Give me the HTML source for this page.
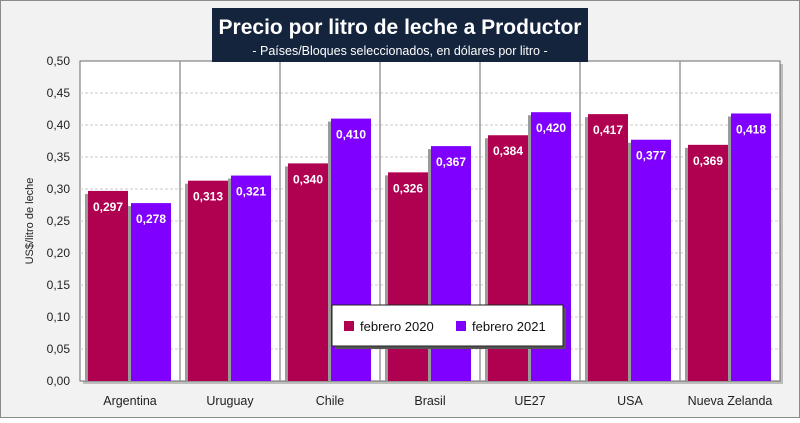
<!DOCTYPE html>
<html><head><meta charset="utf-8"><style>
body{margin:0;background:#fff;}
svg text{font-family:"Liberation Sans",sans-serif;}
</style></head><body>
<svg width="800" height="418" xmlns="http://www.w3.org/2000/svg">
<rect x="0.5" y="0.5" width="799" height="417" fill="#f2f2f2" stroke="#8c8c8c"/>
<rect x="83" y="64" width="700" height="320" fill="#9a9a9a" opacity="0.6"/>
<rect x="80" y="61" width="700" height="320" fill="#fff" stroke="#6b6b6b"/>
<g id="grid"></g>
<g id="bars"></g>
<g id="axes"></g>
<rect x="212" y="8" width="376" height="54" fill="#14243d"/>
<text x="400" y="34" text-anchor="middle" font-size="21" font-weight="bold" fill="#fff">Precio por litro de leche a Productor</text>
<text x="400" y="55" text-anchor="middle" font-size="12.5" fill="#fff">- Países/Bloques seleccionados, en dólares por litro -</text>
<text transform="translate(33,221) rotate(-90)" text-anchor="middle" font-size="11" fill="#222">US$/litro de leche</text>
<g>
<rect x="335" y="308" width="231" height="41" fill="#555"/>
<rect x="332" y="305" width="231" height="41" fill="#fff" stroke="#222"/>
<rect x="344" y="321" width="10" height="10" fill="#b00050"/>
<text x="360" y="331" font-size="13" fill="#111">febrero 2020</text>
<rect x="456" y="321" width="10" height="10" fill="#8000ff"/>
<text x="472" y="331" font-size="13" fill="#111">febrero 2021</text>
</g>
</svg>
<script>
const categories=["Argentina","Uruguay","Chile","Brasil","UE27","USA","Nueva Zelanda"];
const feb2020=[0.297,0.313,0.340,0.326,0.384,0.417,0.369];
const feb2021=[0.278,0.321,0.410,0.367,0.420,0.377,0.418];
const yTicks=[0,0.05,0.10,0.15,0.20,0.25,0.30,0.35,0.40,0.45,0.50];
const NS="http://www.w3.org/2000/svg";
const x0=80,w=700,yTop=61,yBot=381,yMax=0.5;
const cw=w/categories.length;
const y=v=>yBot-(v/yMax)*(yBot-yTop);
const fmt=(v,d)=>v.toFixed(d).replace('.',',');
function mk(p,tag,at){const e=document.createElementNS(NS,tag);for(const k in at)e.setAttribute(k,at[k]);p.appendChild(e);return e;}
const grid=document.getElementById('grid'),bars=document.getElementById('bars'),axes=document.getElementById('axes');
yTicks.forEach(t=>{
 if(t>0&&t<yMax){const l=mk(grid,'line',{x1:x0,x2:x0+w,y1:y(t),y2:y(t),stroke:'#c8c8c8','stroke-dasharray':'3,2'});
 
 }
 const tx=mk(axes,'text',{x:70,y:y(t)+4,'text-anchor':'end','font-size':'12',fill:'#222'});tx.textContent=fmt(t,2);
 
 
});
categories.forEach((c,i)=>{
 const cx=x0+i*cw;
 if(i>0){const s=mk(grid,'line',{x1:cx,x2:cx,y1:yTop,y2:yBot,stroke:'#9a9a9a','stroke-width':1.5});
 
 }
 [[feb2020[i],'#b00050',8],[feb2021[i],'#8000ff',51]].forEach(([v,col,off],k)=>{
  const bx=cx+off;
  mk(bars,'rect',{x:bx-3,y:y(v)+3,width:40,height:yBot-y(v)-3,fill:'#9a9a9a'});
  const r=mk(bars,'rect',{x:bx,y:y(v),width:40,height:yBot-y(v),fill:col});
  
  
  const t=mk(bars,'text',{x:bx+20,y:y(v)+20,'text-anchor':'middle','font-size':'12','font-weight':'bold',fill:'#fff'});
  t.textContent=fmt(v,3);
  
  
 });
 const xl=mk(axes,'text',{x:cx+cw/2,y:405,'text-anchor':'middle','font-size':'12.5',fill:'#222'});xl.textContent=c;
 
 
});
</script>
</body></html>
